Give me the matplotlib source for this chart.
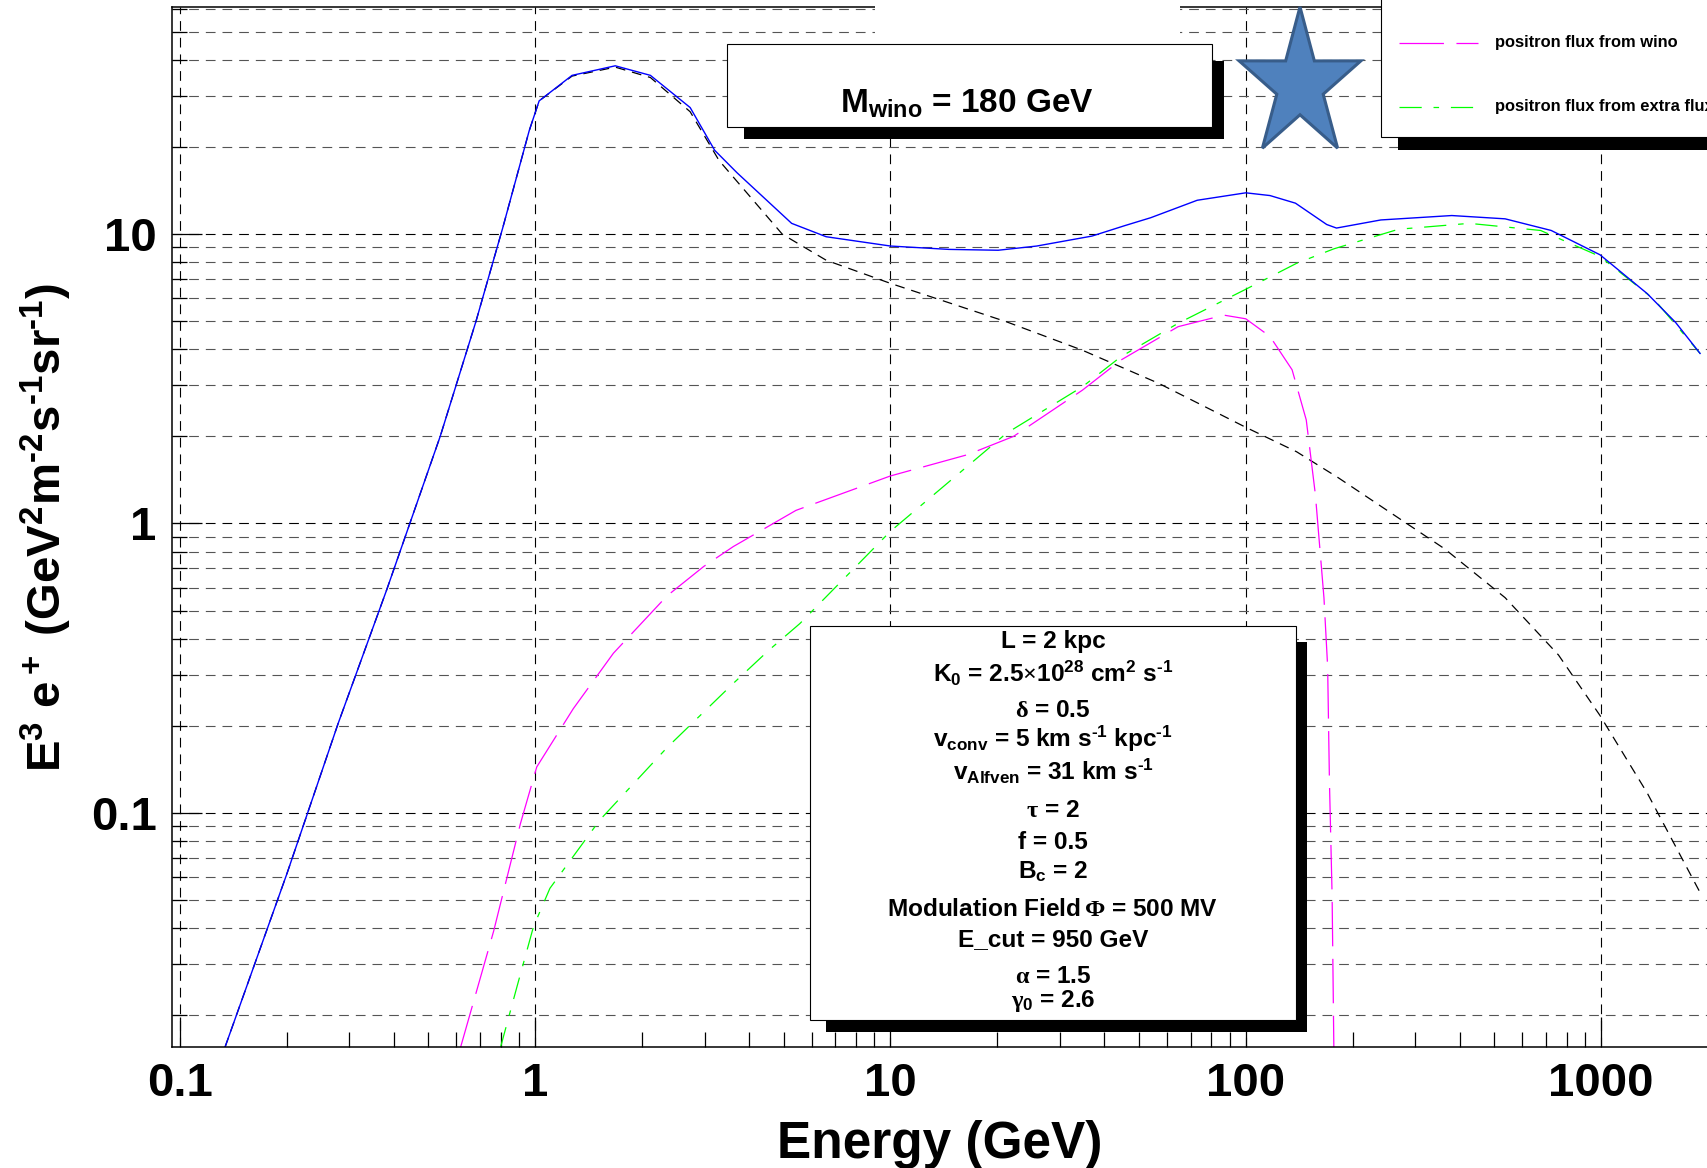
import numpy as np
import matplotlib
matplotlib.use('Agg')
import matplotlib.pyplot as plt
from matplotlib.patches import Rectangle, Polygon
from matplotlib.lines import Line2D
from matplotlib.ticker import FixedLocator, LogLocator, NullFormatter, FuncFormatter

plt.rcParams['font.family'] = ['Liberation Sans', 'DejaVu Sans']
plt.rcParams['font.weight'] = 'bold'
plt.rcParams['mathtext.fontset'] = 'custom'
plt.rcParams['mathtext.rm'] = 'Liberation Sans:bold'
plt.rcParams['mathtext.it'] = 'Liberation Sans:bold'
plt.rcParams['mathtext.bf'] = 'Liberation Sans:bold'
plt.rcParams['mathtext.sf'] = 'Liberation Serif'
plt.rcParams['lines.scale_dashes'] = False

# ---- data (E in GeV, E^3 flux) ----
total_E = [0.134, 0.2, 0.279, 0.382, 0.541, 0.681, 0.81, 0.962, 1.026, 1.27, 1.68, 2.11,
           2.73, 3.2, 3.7, 5.27, 6.59, 10, 14.6, 20.1, 25.8, 36.9, 45.6, 54, 73, 100,
           117, 138, 169, 180, 240, 380, 537, 724, 993, 1349, 1622, 1900]
total_F = [0.0155, 0.0615, 0.204, 0.59, 2.01, 4.99, 10.5, 22.8, 28.9, 35.4, 38.2, 35.4,
           27.4, 19.5, 16.3, 10.9, 9.8, 9.1, 8.86, 8.8, 9.1, 9.85, 10.7, 11.4, 13.1, 13.9,
           13.6, 12.8, 10.8, 10.5, 11.2, 11.6, 11.3, 10.3, 8.49, 6.23, 4.95, 3.87]

bg_E = [0.134, 0.2, 0.279, 0.382, 0.541, 0.681, 0.81, 0.962, 1.026, 1.27, 1.68, 2.11,
        2.73, 3.29, 4.96, 6.59, 10, 21.2, 34.7, 56.9, 100, 139, 182, 363, 537, 759,
        993, 1349, 1900]
bg_F = [0.0155, 0.0615, 0.204, 0.59, 2.01, 4.99, 10.5, 22.8, 28.9, 35.2, 37.8, 34.8,
        26.5, 18.0, 10.0, 8.13, 6.76, 4.98, 3.97, 3.05, 2.15, 1.77, 1.44, 0.817, 0.554,
        0.351, 0.217, 0.117, 0.053]

wino_E = [0.615, 0.764, 0.908, 1.01, 1.28, 1.66, 2.35, 2.98, 3.61, 5.42, 10, 16.5, 22.2,
          34.7, 44.5, 64.5, 86.8, 100, 117, 135, 148, 157, 166, 170, 172, 175, 177]
wino_F = [0.0153, 0.039, 0.0914, 0.144, 0.229, 0.356, 0.562, 0.71, 0.832, 1.11, 1.46,
          1.73, 2.0, 2.89, 3.67, 4.79, 5.25, 5.1, 4.43, 3.4, 2.28, 1.26, 0.553, 0.32,
          0.128, 0.0516, 0.0152]

extra_E = [0.797, 0.889, 0.989, 1.10, 1.52, 2.35, 3.61, 4.55, 5.56, 10, 21.2, 34.7, 44.5,
           64.5, 100, 139, 177, 269, 426, 676, 993, 1413, 1900]
extra_F = [0.0153, 0.0251, 0.0404, 0.0548, 0.0944, 0.168, 0.28, 0.365, 0.451, 0.94,
           2.05, 2.97, 3.77, 4.92, 6.45, 7.93, 8.9, 10.4, 10.9, 10.3, 8.38, 5.94, 3.87]

x_major = [0.1, 1, 10, 100, 1000]
y_major = [0.1, 1, 10]

HY = '\u2010'  # short hyphen for the exponents, as in the original
legend_labels = ['positron flux from wino', 'positron flux from extra flux']
mass_label = r'M$_{\mathrm{wino}}$ = 180 GeV'
ylabel = r'E$^3$ e$^+$ (GeV$^2$m$^{' + HY + r'2}$s$^{' + HY + r'1}$sr$^{' + HY + r'1}$)'
param_lines = [
    'L = 2 kpc',
    r'K$_0$ = 2.5$\mathsf{\times}$10$^{28}$ cm$^2$ s$^{' + HY + '1}$',
    r'$\mathsf{\delta}$ = 0.5',
    r'v$_{\mathrm{conv}}$ = 5 km s$^{' + HY + '1}$ kpc$^{' + HY + '1}$',
    r'v$_{\mathrm{Alfven}}$ = 31 km s$^{' + HY + '1}$',
    r'$\mathsf{\tau}$ = 2',
    'f = 0.5',
    r'B$_{\mathrm{c}}$ = 2',
    r'Modulation Field$\,\mathsf{\Phi}$ = 500 MV',
    'E_cut = 950 GeV',
    r'$\mathsf{\alpha}$ = 1.5',
    r'$\mathsf{\gamma}_0$ = 2.6',
]
# baselines of the parameter lines, in pixels from the top
param_base = [648, 682, 717, 747, 780, 817, 849, 878, 916, 946, 983, 1007]

W, H = 1708, 1168
def fx(x):
    return x / W
def fy(y):
    return 1 - y / H

fig = plt.figure(figsize=(W / 100, H / 100), dpi=100)
ax = fig.add_axes([fx(172), fy(1047), fx(1708) - fx(172), fy(7) - fy(1047)])
ax.set_xscale('log')
ax.set_yscale('log')
ax.set_xlim(0.095, 2000)
ax.set_ylim(0.0155, 61)

# ROOT-like dashed grid
gdash = (0, (7, 5))
ax.grid(True, which='major', axis='x', color='k', lw=0.8, ls=gdash)
ax.grid(True, which='major', axis='y', color='k', lw=0.8, ls=gdash)
ax.grid(True, which='minor', axis='y', color='#555555', lw=0.8, ls=gdash)

ax.plot(bg_E, bg_F, color='k', lw=0.9, ls=(0, (7, 5)))
ax.plot(wino_E, wino_F, color='#ff00ff', lw=0.9, ls=(0, (32, 9)))
ax.plot(extra_E, extra_F, color='#00ff00', lw=0.9, ls=(0, (16, 8.5, 4, 8.5)))
ax.plot(total_E, total_F, color='#0000ff', lw=1.0)

ax.xaxis.set_major_locator(FixedLocator(x_major))
ax.yaxis.set_major_locator(FixedLocator(y_major))
ax.xaxis.set_minor_locator(LogLocator(base=10, subs=np.arange(2, 10)))
ax.yaxis.set_minor_locator(LogLocator(base=10, subs=np.arange(2, 10)))
ax.xaxis.set_minor_formatter(NullFormatter())
ax.yaxis.set_minor_formatter(NullFormatter())
ax.xaxis.set_major_formatter(FuncFormatter(lambda v, p: f'{v:g}'))
ax.yaxis.set_major_formatter(FuncFormatter(lambda v, p: f'{v:g}'))
ax.tick_params(which='major', direction='in', length=21.6, width=0.9, labelsize=34)
ax.tick_params(which='minor', direction='in', length=10.8, width=0.9)
ax.tick_params(axis='x', which='major', pad=11)
ax.tick_params(axis='y', which='major', pad=11)
for s in ['left', 'bottom', 'top']:
    ax.spines[s].set_linewidth(1.1)
ax.spines['right'].set_visible(False)

fig.text(fx(940), fy(1158), 'Energy (GeV)', ha='center', va='baseline', fontsize=37)
fig.text(fx(46), fy(528), ylabel, rotation=90, ha='center', va='center', fontsize=34)

def box(x0, y0, x1, y1, **kw):
    fig.add_artist(Rectangle((fx(x0), fy(y1)), fx(x1) - fx(x0), fy(y0) - fy(y1),
                             transform=fig.transFigure, **kw))

# blank title area
box(875, -5, 1180, 44, facecolor='white', edgecolor='none', zorder=2)

# mass box
box(744, 61, 1224, 139, facecolor='black', edgecolor='none', zorder=2)
box(727, 44, 1212, 127, facecolor='white', edgecolor='black', lw=0.8, zorder=3)
fig.text(fx(967), fy(113), mass_label, ha='center', va='baseline', fontsize=24, zorder=4)

# parameter box
box(826, 642, 1307, 1032, facecolor='black', edgecolor='none', zorder=2)
box(810, 626, 1296, 1020, facecolor='white', edgecolor='black', lw=0.8, zorder=3)
for txt, yb in zip(param_lines, param_base):
    fig.text(fx(1053), fy(yb), txt, ha='center', va='baseline', fontsize=17.6, zorder=4)

# legend
box(1398, 20, 1730, 150, facecolor='black', edgecolor='none', zorder=2)
box(1381, -5, 1730, 137, facecolor='white', edgecolor='black', lw=0.8, zorder=3)
fig.add_artist(Line2D([fx(1399), fx(1478)], [fy(43), fy(43)], color='#ff00ff', lw=0.9,
                      ls=(0, (32, 9)), transform=fig.transFigure, zorder=4))
fig.add_artist(Line2D([fx(1399), fx(1478)], [fy(107), fy(107)], color='#00ff00', lw=0.9,
                      ls=(0, (16, 8.5, 4, 8.5)), transform=fig.transFigure, zorder=4))
fig.text(fx(1495), fy(43), legend_labels[0], ha='left', va='center', fontsize=11.9, zorder=4)
fig.text(fx(1495), fy(107), legend_labels[1], ha='left', va='center', fontsize=11.9, zorder=4)

# star decoration
cx, cy, R, r, stretch = 1300, 85, 64, 24.4, 1.22
ang = np.deg2rad(90 + 36 * np.arange(10))
rad = np.where(np.arange(10) % 2 == 0, R, r)
sx = cx + rad * np.cos(ang)
sy = cy - rad * np.sin(ang) * stretch
star = Polygon(np.column_stack([fx(sx), fy(sy)]), closed=True, transform=fig.transFigure,
               facecolor='#4F81BD', edgecolor='#385D8A', lw=2.2, zorder=3)
fig.add_artist(star)

fig.savefig('out.png', dpi=100)
